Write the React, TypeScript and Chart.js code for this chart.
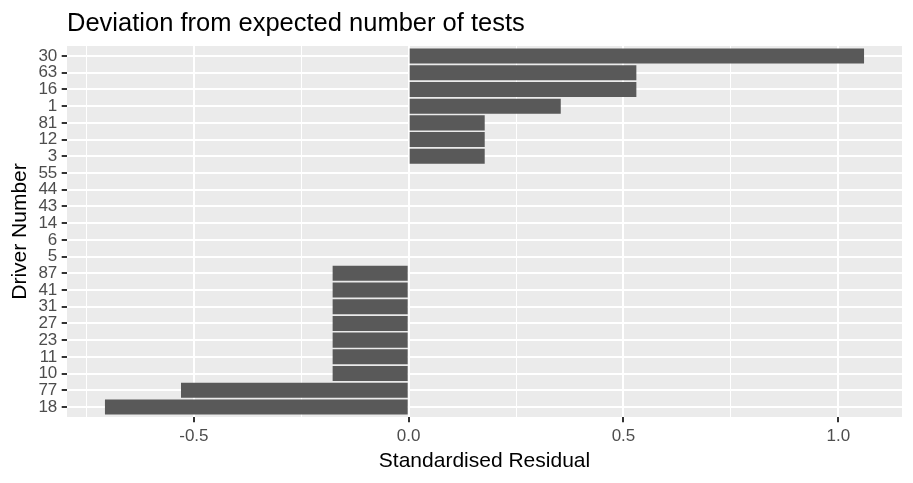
import React, { useEffect, useRef } from "react";
import { Chart, registerables } from "chart.js";

Chart.register(...registerables);

const drivers = ["30", "63", "16", "1", "81", "12", "3", "55", "44", "43", "14", "6", "5", "87", "41", "31", "27", "23", "11", "10", "77", "18"];
const residuals = [1.06, 0.53, 0.53, 0.354, 0.177, 0.177, 0.177, 0, 0, 0, 0, 0, 0, -0.177, -0.177, -0.177, -0.177, -0.177, -0.177, -0.177, -0.53, -0.707];
const xTicks = [-0.75, -0.5, -0.25, 0, 0.25, 0.5, 0.75, 1.0];
const xMajor = [-0.5, 0, 0.5, 1.0];

const FONT = "'Liberation Sans', Arial, sans-serif";

const isMajor = (v: number) => xMajor.some((m) => Math.abs(m - v) < 1e-9);

const panelBg = {
  id: "panelBg",
  beforeDraw(chart: any) {
    const { ctx, chartArea } = chart;
    ctx.save();
    ctx.fillStyle = "#EBEBEB";
    ctx.fillRect(chartArea.left, chartArea.top, chartArea.right - chartArea.left, chartArea.bottom - chartArea.top);
    ctx.restore();
  },
};

export default function App() {
  const ref = useRef<HTMLCanvasElement | null>(null);
  useEffect(() => {
    const lo = Math.min(...residuals);
    const hi = Math.max(...residuals);
    const pad = (hi - lo) * 0.05;
    const n = drivers.length;
    const chart = new Chart(ref.current as HTMLCanvasElement, {
      type: "bar",
      data: {
        labels: drivers,
        datasets: [
          {
            data: residuals.map((v, i) => ({ x: v, y: i })),
            backgroundColor: "#595959",
            borderWidth: 0,
            barPercentage: 0.9,
            categoryPercentage: 1,
          },
        ],
      },
      plugins: [panelBg],
      options: {
        indexAxis: "y",
        responsive: false,
        animation: false,
        devicePixelRatio: 1,
        layout: { padding: { top: 0, right: 11, bottom: 0, left: 0 } },
        plugins: {
          legend: { display: false },
          tooltip: { enabled: false },
          title: {
            display: true,
            text: "Deviation from expected number of tests",
            align: "start",
            fullSize: false,
            color: "#000000",
            font: { family: FONT, size: 25.5, weight: "normal", lineHeight: 1.2 },
            padding: { top: 8.2, bottom: 7.2 },
          },
        },
        scales: {
          x: {
            type: "linear",
            min: lo - pad,
            max: hi + pad,
            afterBuildTicks: (scale: any) => {
              scale.ticks = xTicks.map((v) => ({ value: v }));
            },
            afterFit: (scale: any) => {
              scale.height = 66;
            },
            border: { display: false },
            grid: {
              color: "#FFFFFF",
              lineWidth: (ctx: any) => (ctx.tick && isMajor(ctx.tick.value) ? 2 : 1),
              drawTicks: true,
              tickLength: 5.3,
              tickWidth: 2,
              tickColor: (ctx: any) => (ctx.tick && isMajor(ctx.tick.value) ? "#333333" : "rgba(0,0,0,0)"),
            },
            ticks: {
              autoSkip: false,
              maxRotation: 0,
              padding: 3.8,
              color: "#4D4D4D",
              font: { family: FONT, size: 17, lineHeight: 1.2 },
              callback: (v: any) => (isMajor(Number(v)) ? Number(v).toFixed(1) : ""),
            },
            title: {
              display: true,
              text: "Standardised Residual",
              color: "#000000",
              font: { family: FONT, size: 21, lineHeight: 1.2 },
              padding: { top: 0, bottom: 9.6 },
            },
          },
          y: {
            type: "linear",
            reverse: true,
            offset: false,
            min: -0.6,
            max: n - 1 + 0.6,
            afterBuildTicks: (scale: any) => {
              scale.ticks = drivers.map((_, i) => ({ value: i }));
            },
            afterFit: (scale: any) => {
              scale.width = 67;
            },
            border: { display: false },
            grid: {
              offset: false,
              color: "#FFFFFF",
              lineWidth: 2,
              drawTicks: true,
              tickLength: 5.3,
              tickWidth: 2,
              tickColor: "#333333",
            },
            ticks: {
              autoSkip: false,
              padding: 4.4,
              color: "#4D4D4D",
              font: { family: FONT, size: 17, lineHeight: 1.2 },
              callback: (v: any) => drivers[Math.round(Number(v))] ?? "",
            },
            title: {
              display: true,
              text: "Driver Number",
              color: "#000000",
              font: { family: FONT, size: 21, lineHeight: 1.2 },
              padding: { top: 8.1, bottom: 0 },
            },
          },
        },
      } as any,
    });
    return () => chart.destroy();
  }, []);

  return (
    <div style={{ position: "fixed", left: 0, top: 0, width: 913, height: 483, background: "#FFFFFF" }}>
      <canvas ref={ref} width={913} height={483} style={{ width: 913, height: 483, display: "block" }} />
    </div>
  );
}
